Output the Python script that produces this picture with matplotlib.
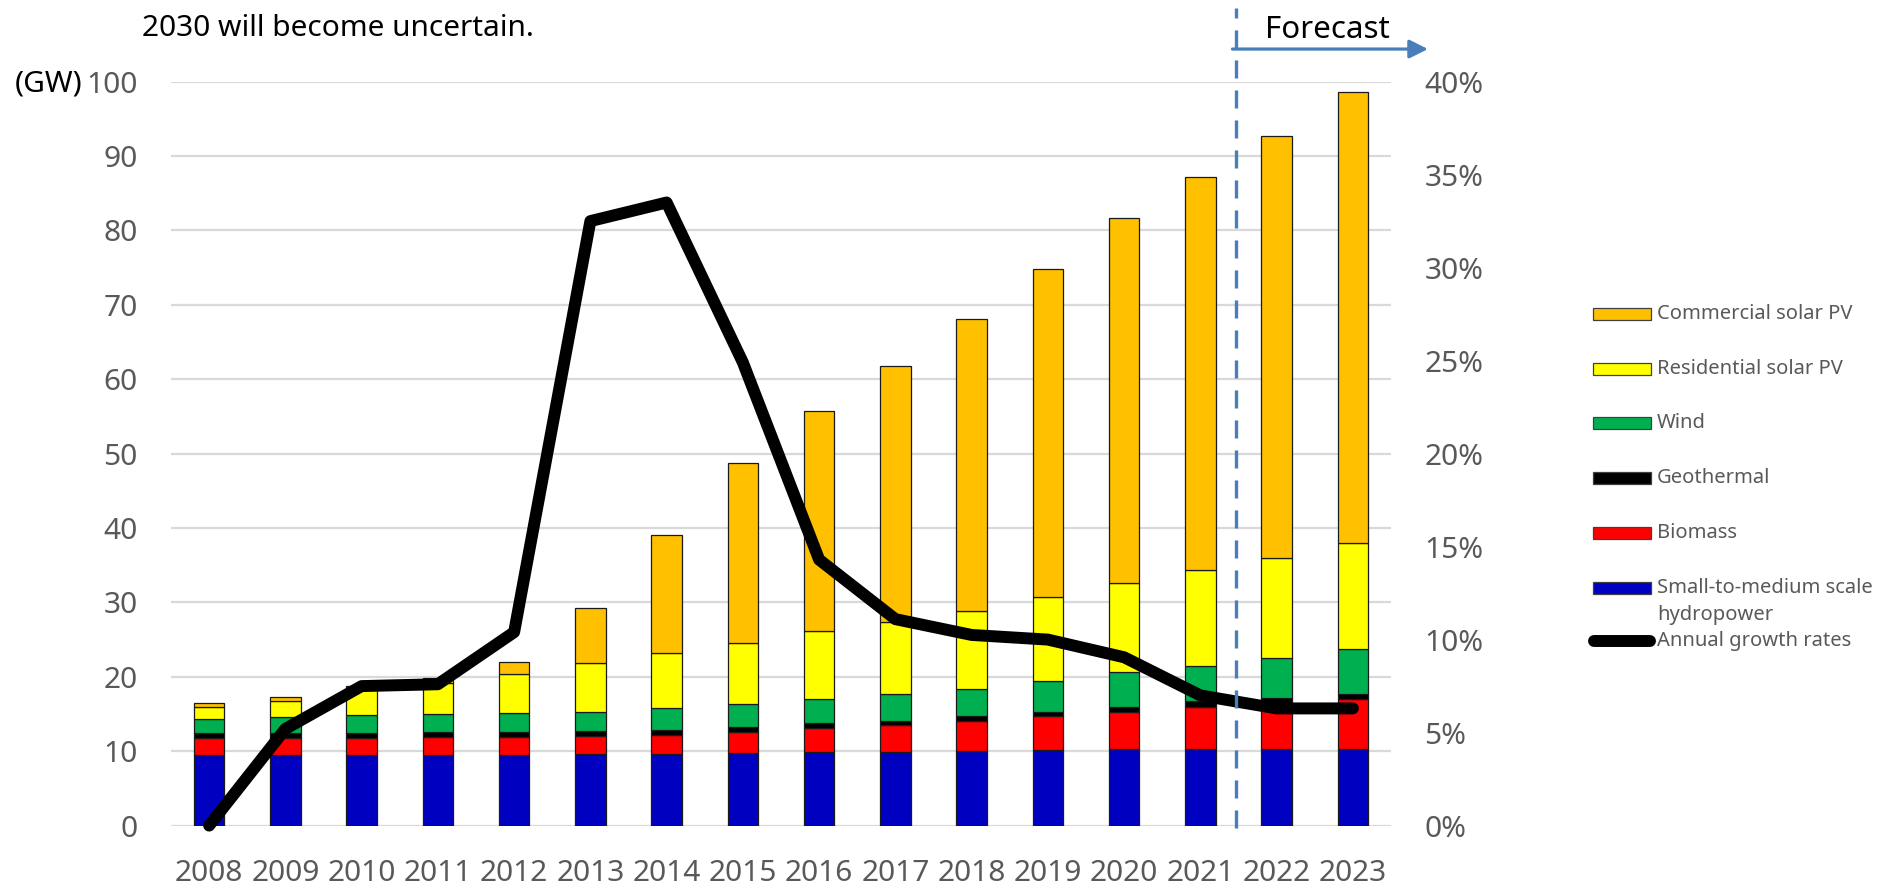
import matplotlib
matplotlib.use("Agg")
import matplotlib.pyplot as plt
import numpy as np
from matplotlib.patches import Rectangle
from matplotlib.lines import Line2D

plt.rcParams['font.family'] = ['Noto Sans', 'DejaVu Sans']
plt.rcParams['lines.scale_dashes'] = False

# Installed renewable capacity by source (GW) and annual growth rate (%)
years = [2008, 2009, 2010, 2011, 2012, 2013, 2014, 2015,
         2016, 2017, 2018, 2019, 2020, 2021, 2022, 2023]
hydro = [9.55, 9.55, 9.55, 9.55, 9.55, 9.6, 9.65, 9.7,
         9.9, 9.95, 10.0, 10.2, 10.3, 10.3, 10.3, 10.3]
biomass = [2.25, 2.25, 2.25, 2.3, 2.3, 2.5, 2.55, 2.9,
           3.2, 3.55, 4.1, 4.5, 5.0, 5.7, 6.2, 6.7]
geothermal = [0.7, 0.7, 0.7, 0.7, 0.7, 0.6, 0.7, 0.7,
              0.7, 0.6, 0.6, 0.6, 0.7, 0.7, 0.7, 0.7]
wind = [1.8, 2.1, 2.4, 2.45, 2.55, 2.6, 2.9, 3.0,
        3.2, 3.6, 3.7, 4.2, 4.6, 4.8, 5.3, 6.1]
residential_pv = [1.6, 2.2, 3.5, 4.1, 5.3, 6.6, 7.4, 8.2,
                  9.1, 9.7, 10.4, 11.2, 12.0, 12.8, 13.5, 14.2]
commercial_pv = [0.6, 0.5, 0.3, 0.8, 1.6, 7.4, 15.9, 24.3,
                 29.6, 34.4, 39.3, 44.1, 49.0, 52.9, 56.7, 60.6]
growth_pct = [0.0, 5.2, 7.5, 7.6, 10.4, 32.5, 33.5, 24.9,
              14.3, 11.1, 10.25, 10.0, 9.05, 7.0, 6.3, 6.3]

series_names = ["Small-to-medium scale\nhydropower", "Biomass", "Geothermal",
                "Wind", "Residential solar PV", "Commercial solar PV"]
series_values = [hydro, biomass, geothermal, wind, residential_pv, commercial_pv]
series_colors = ["#0000C0", "#FF0000", "#000000", "#00B050", "#FFFF00", "#FFC000"]
line_name = "Annual growth rates"
forecast_label = "Forecast"
forecast_start = 13.47          # between 2021 and 2022
note_text = "2030 will become uncertain."

W, H = 1881, 885
fig = plt.figure(figsize=(W / 100, H / 100), dpi=100)
ax = fig.add_axes([171 / W, 1 - 825.6 / H, (1391 - 171) / W, (825.6 - 81.6) / H])

tick_color = "#595959"
x = np.arange(len(years))
bottom = np.zeros(len(years))
for vals, col in zip(series_values, series_colors):
    vals = np.asarray(vals)
    ax.bar(x, vals, 0.40, bottom=bottom, color=col, edgecolor="#1a1a1a",
           linewidth=0.9, zorder=2)
    bottom += vals

ax.set_xlim(-0.5, len(years) - 0.5)
ax.set_ylim(0, 100)
ax.set_yticks(np.arange(0, 101, 10))
ax.set_xticks(x)
ax.set_xticklabels([str(y) for y in years])
ax.set_axisbelow(True)
ax.yaxis.grid(True, color="#D9D9D9", linewidth=1.6)
ax.tick_params(axis="both", length=0, labelsize=21.5, labelcolor=tick_color, pad=24)
for s in ax.spines.values():
    s.set_visible(False)

ax2 = ax.twinx()
ax2.set_ylim(0, 0.40)
ax2.set_yticks(np.arange(0, 0.401, 0.05))
ax2.set_yticklabels([f"{v:.0f}%" for v in np.arange(0, 40.1, 5)])
ax2.tick_params(axis="y", length=0, labelsize=21.5, labelcolor=tick_color, pad=24)
for s in ax2.spines.values():
    s.set_visible(False)

ax2.plot(x, np.asarray(growth_pct) / 100, color="black", linewidth=8.6,
         solid_capstyle="round", solid_joinstyle="round", zorder=5, clip_on=False)

# Forecast divider and arrow
blue = "#4A7EBB"
ax2.plot([forecast_start, forecast_start], [-0.0013, 0.4396], color=blue,
         linewidth=2.4, dashes=(13, 8.6), zorder=6, clip_on=False)
ax2.annotate("", xy=(15.985, 0.4175), xytext=(forecast_start - 0.05, 0.4175),
             xycoords="data", annotation_clip=False,
             arrowprops=dict(arrowstyle="-|>", color=blue, lw=2.3,
                             mutation_scale=28, shrinkA=0, shrinkB=0))
ax2.text(14.66, 0.4234, forecast_label, ha="center", va="baseline",
         fontsize=22.5, color="black", clip_on=False)

# Unit label and note
fig.text(15 / W, 1 - 92 / H, "(GW)", ha="left", va="baseline", fontsize=21.5, color="black")
fig.text(142 / W, 1 - 36 / H, note_text, ha="left", va="baseline", fontsize=21.5, color="black")

# Legend drawn at fixed positions on the right
leg_x0, leg_w, leg_h = 1593, 58, 12
text_x = 1657
row_y = [314, 369, 423, 478, 533, 588]
leg_order = list(range(len(series_names)))[::-1]
for yy, idx in zip(row_y, leg_order):
    fig.add_artist(Rectangle((leg_x0 / W, 1 - (yy + leg_h / 2) / H), leg_w / W, leg_h / H,
                             transform=fig.transFigure, facecolor=series_colors[idx],
                             edgecolor="#404040", linewidth=0.9))
    fig.text(text_x / W, 1 - yy / H, series_names[idx].split("\n")[0], ha="left",
             va="center", fontsize=14.5, color=tick_color)
    if "\n" in series_names[idx]:
        fig.text(text_x / W, 1 - 615 / H, series_names[idx].split("\n")[1], ha="left",
                 va="center", fontsize=14.5, color=tick_color)
fig.add_artist(Line2D([1594 / W, 1650 / W], [1 - 641 / H, 1 - 641 / H],
                      transform=fig.transFigure, color="black", linewidth=8.6,
                      solid_capstyle="round"))
fig.text(text_x / W, 1 - 641 / H, line_name, ha="left", va="center",
         fontsize=14.5, color=tick_color)

fig.savefig("out.png", dpi=100)
